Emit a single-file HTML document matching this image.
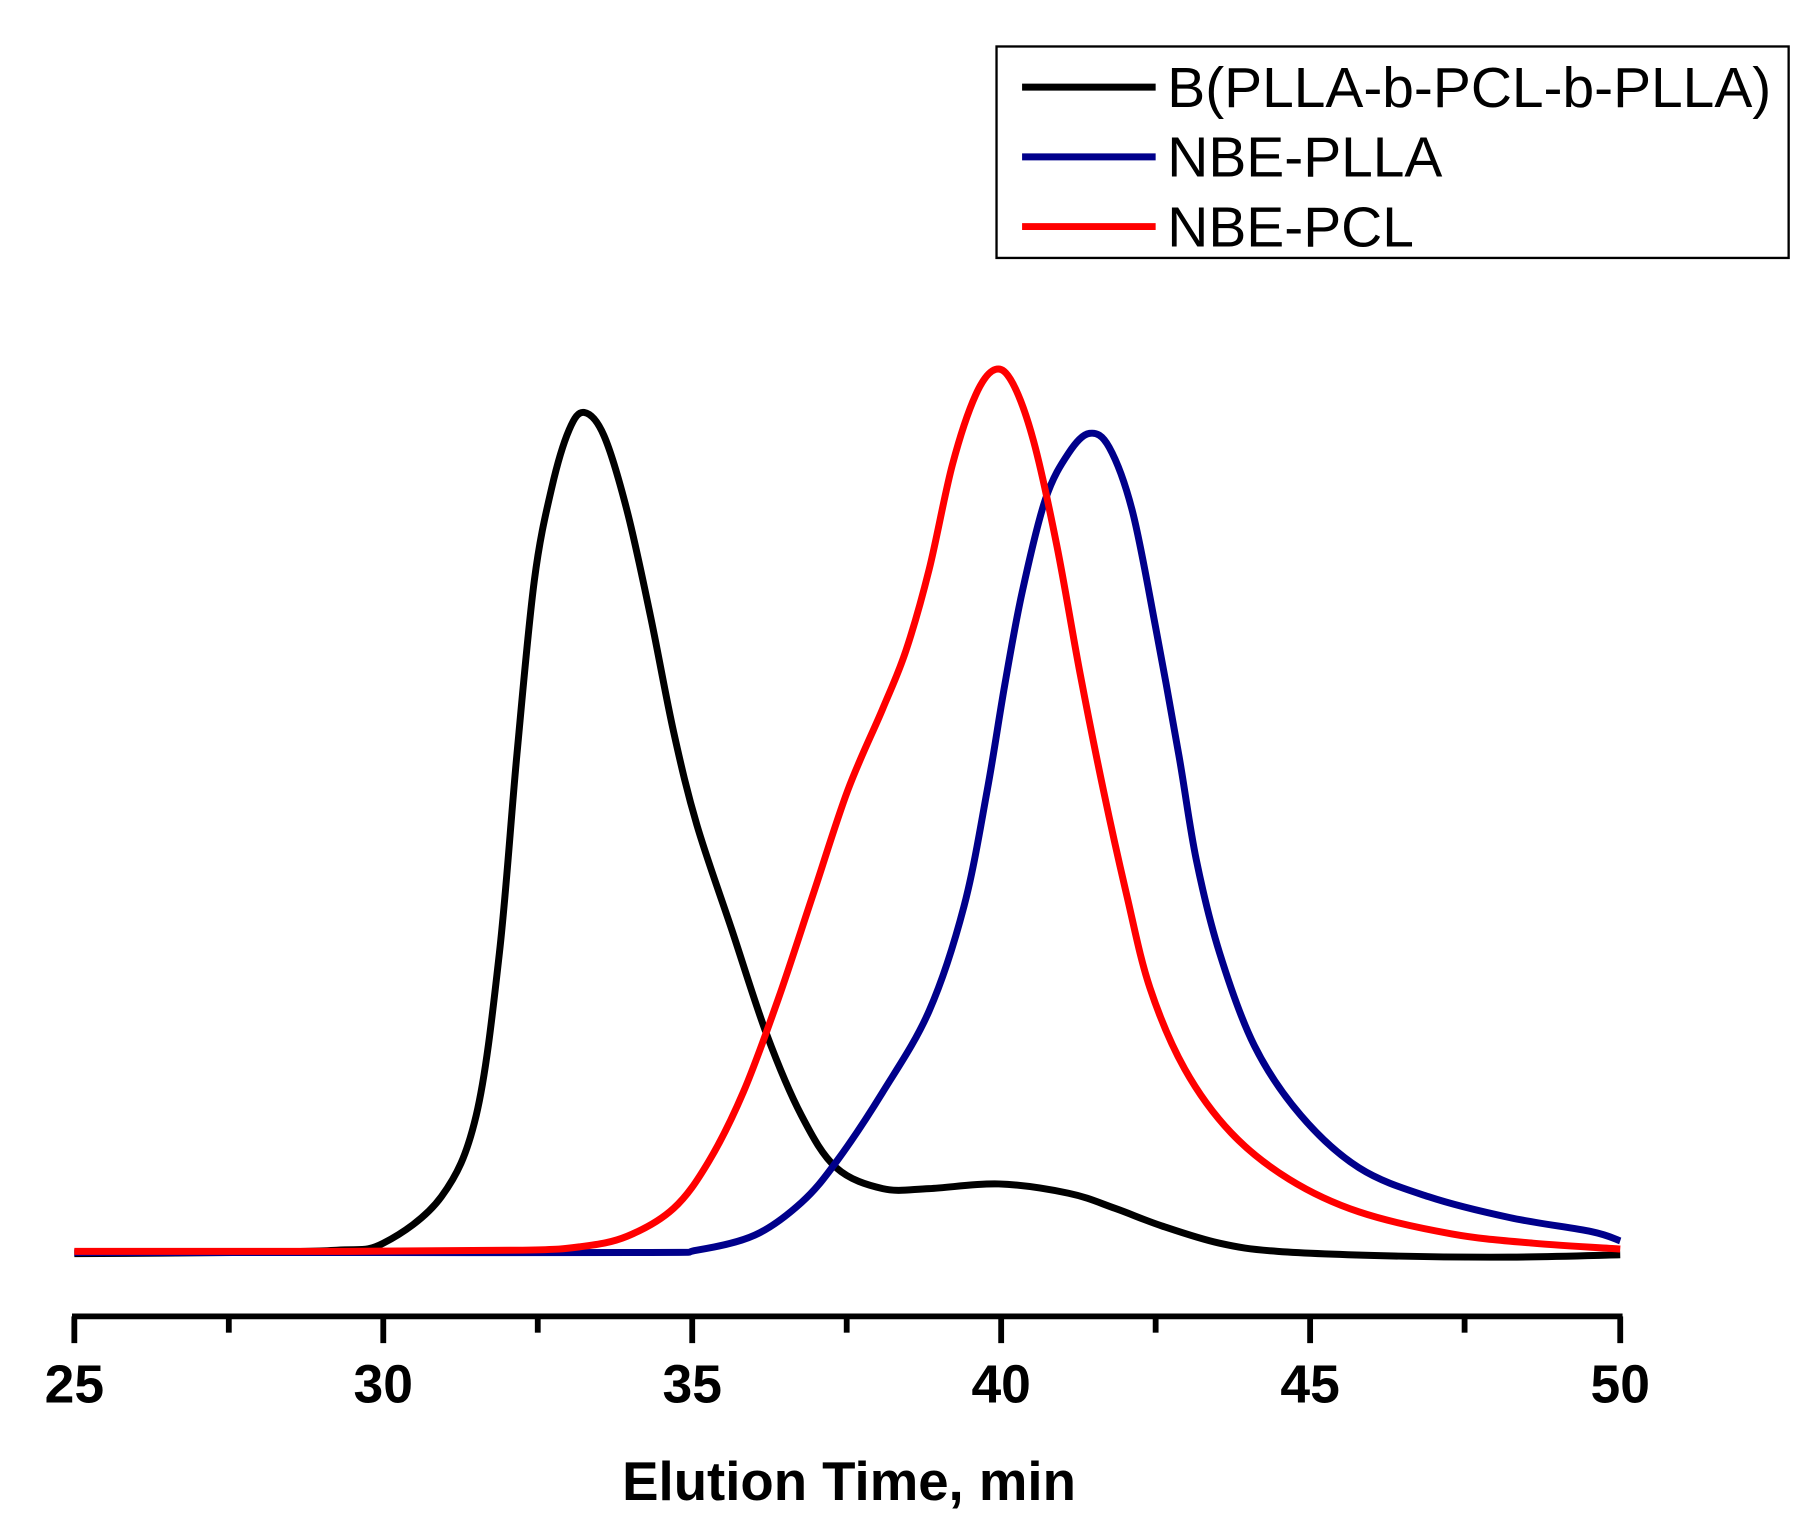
<!DOCTYPE html>
<html><head><meta charset="utf-8"><style>html,body{margin:0;padding:0;background:#fff}svg{display:block}</style></head>
<body>
<svg id="s" width="1820" height="1536" viewBox="0 0 1567 1322" preserveAspectRatio="none" xmlns="http://www.w3.org/2000/svg" font-family="Liberation Sans, Arial, sans-serif">
<rect x="858" y="40" width="682" height="182" fill="#fff" stroke="#000" stroke-width="2"/>
<line x1="880" y1="75" x2="995" y2="75" stroke="#000" stroke-width="6"/>
<line x1="880" y1="135" x2="995" y2="135" stroke="#00008b" stroke-width="6"/>
<line x1="880" y1="195" x2="995" y2="195" stroke="#ff0000" stroke-width="6"/>
<text x="1005" y="92" font-size="49">B(PLLA-b-PCL-b-PLLA)</text>
<text x="1005" y="152" font-size="49">NBE-PLLA</text>
<text x="1005" y="212" font-size="49">NBE-PCL</text>
<g stroke="#000" stroke-width="5">
<line x1="62" y1="1133" x2="1397" y2="1133"/>
<line x1="64" y1="1133" x2="64" y2="1156"/><line x1="330" y1="1133" x2="330" y2="1156"/><line x1="596" y1="1133" x2="596" y2="1156"/><line x1="862" y1="1133" x2="862" y2="1156"/><line x1="1128" y1="1133" x2="1128" y2="1156"/><line x1="1395" y1="1133" x2="1395" y2="1156"/>
<line x1="197" y1="1133" x2="197" y2="1147"/><line x1="463" y1="1133" x2="463" y2="1147"/><line x1="729" y1="1133" x2="729" y2="1147"/><line x1="995" y1="1133" x2="995" y2="1147"/><line x1="1261" y1="1133" x2="1261" y2="1147"/>
</g>
<g font-size="46" font-weight="bold" text-anchor="middle">
<text x="64" y="1207">25</text><text x="330" y="1207">30</text><text x="596" y="1207">35</text><text x="862" y="1207">40</text><text x="1128" y="1207">45</text><text x="1395" y="1207">50</text>
</g>
<text x="731" y="1291" font-size="47" font-weight="bold" text-anchor="middle">Elution Time, min</text>
<path id="b" fill="none" stroke="#000" stroke-width="6" stroke-linejoin="round"/>
<path id="u" fill="none" stroke="#00008b" stroke-width="6" stroke-linejoin="round"/>
<path id="r" fill="none" stroke="#ff0000" stroke-width="6" stroke-linejoin="round"/>
</svg>
<script>
function cr(p){let d="M"+p[0][0]+","+p[0][1];for(let i=0;i<p.length-1;i++){const p0=p[i-1]||p[i],p1=p[i],p2=p[i+1],p3=p[i+2]||p2;d+=" C"+(p1[0]+(p2[0]-p0[0])/6)+","+(p1[1]+(p2[1]-p0[1])/6)+" "+(p2[0]-(p3[0]-p1[0])/6)+","+(p2[1]-(p3[1]-p1[1])/6)+" "+p2[0]+","+p2[1];}return d;}
const B=[[64,1079],[200,1078],[290,1076],[330,1070],[380,1030],[410,960],[430,820],[445,650],[460,500],[475,420],[490,370],[503,355],[520,375],[540,440],[560,530],[580,630],[600,710],[630,800],[660,890],[690,960],[720,1005],[760,1023],[800,1023],[860,1019],[920,1027],[960,1040],[1000,1055],[1050,1070],[1100,1077],[1200,1081],[1300,1082],[1395,1080]];
const U=[[64,1078],[300,1078],[560,1078],[600,1076],[650,1063],[690,1035],[720,1000],[760,940],[800,870],[830,780],[850,680],[865,590],[880,510],[900,430],[920,390],[938,373],[955,385],[975,440],[995,540],[1015,650],[1030,740],[1050,820],[1080,900],[1120,960],[1170,1005],[1230,1030],[1300,1048],[1370,1060],[1395,1068]];
const R=[[64,1077],[300,1077],[450,1076],[500,1073],[540,1064],[580,1040],[610,1000],[640,940],[670,860],[700,770],[730,680],[760,610],[780,560],[800,490],[820,400],[840,340],[857,318],[872,330],[890,380],[910,470],[930,580],[950,680],[970,770],[990,850],[1020,920],[1060,975],[1110,1015],[1170,1043],[1250,1062],[1320,1070],[1395,1075]];
document.getElementById("b").setAttribute("d",cr(B));
document.getElementById("u").setAttribute("d",cr(U));
document.getElementById("r").setAttribute("d",cr(R));
</script>
</body></html>
